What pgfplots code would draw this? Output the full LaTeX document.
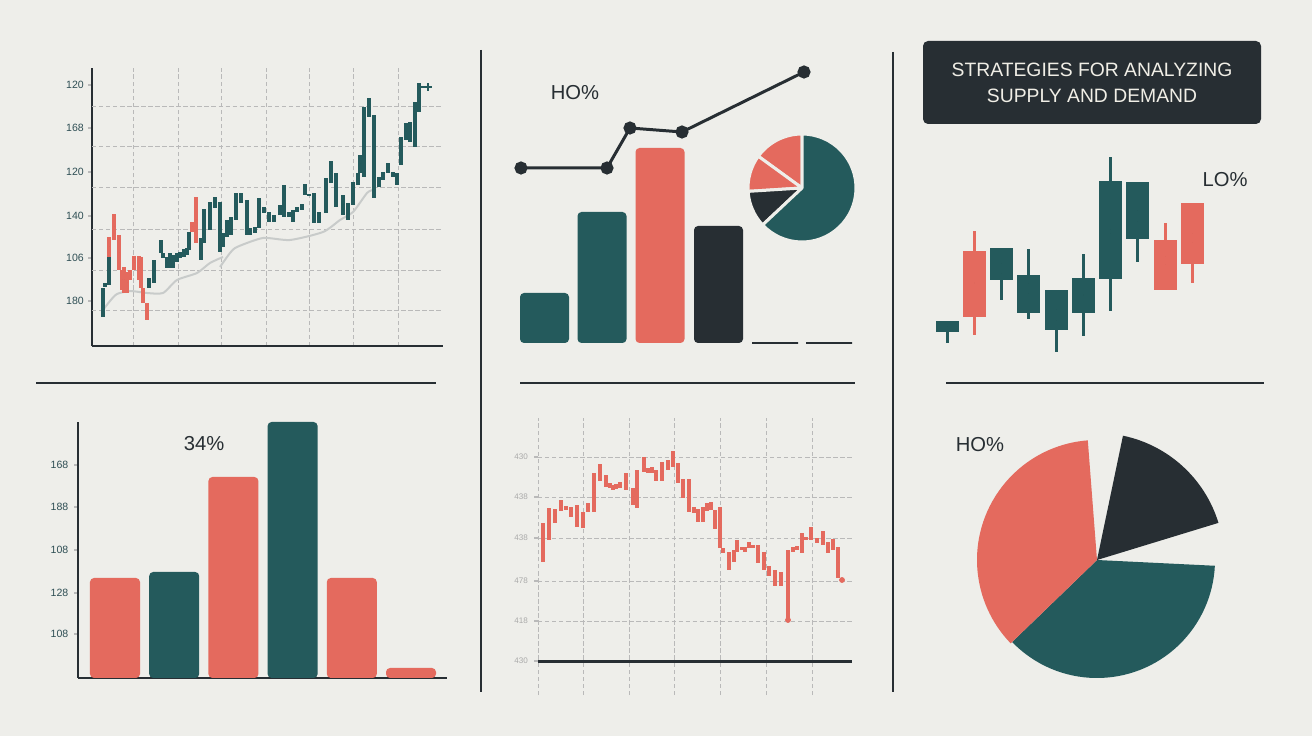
\documentclass[border=0pt]{standalone}
\usepackage{fontspec}
\setmainfont{Liberation Sans}
\usepackage{pgfplots}
\usepackage{pgfplotstable}
\pgfplotsset{compat=1.18}

\definecolor{bg}{RGB}{238,238,234}
\definecolor{cteal}{RGB}{36,90,92}
\definecolor{ccoral}{RGB}{228,106,94}
\definecolor{cdark}{RGB}{39,46,51}
\definecolor{cma}{RGB}{200,203,202}
\definecolor{ctick}{RGB}{46,78,84}
\definecolor{cgrid}{RGB}{185,185,185}
\definecolor{clight}{RGB}{170,170,170}
\definecolor{ctitle}{RGB}{240,238,230}

\pgfplotsset{
  candle/.style 2 args={only marks, mark size=0pt, mark options={draw=none, fill=none},
    error bars/.cd, y dir=both, y explicit, error mark=none,
    error bar style={line width=#1, draw=#2}},
  /pgfplots/table/lohi/.style={x=x, y expr={(\thisrow{lo}+\thisrow{hi})/2},
    y error expr={(\thisrow{hi}-\thisrow{lo})/2}},
  /pgfplots/table/body/.style={x=i, y expr={(\thisrow{o}+\thisrow{c})/2},
    y error expr={abs(\thisrow{c}-\thisrow{o})/2}},
  /pgfplots/table/wick/.style={x=i, y expr={(\thisrow{h}+\thisrow{l})/2},
    y error expr={(\thisrow{h}-\thisrow{l})/2}},
  dgrid/.style={cgrid, dash pattern=on 2.5pt off 1.5pt, line width=0.5pt},
}

% top left: price bars (x, low, high)
\pgfplotstableread{
x lo hi
103 29 58
105 59 63
109 61 89
149 58 68
154 63 86
161 93 106
163 88 93
167 78 89
170 78 93
173 78 91
177 84 93
180 88 94
184 89 97
187 91 98
189 96 114
201 86 108
204 103 137
210 116 144
215 138 149
220 94 144
223 99 113
227 109 126
231 111 129
236 126 153
241 143 153
247 111 146
250 111 118
255 113 119
259 118 148
264 133 139
269 124 134
274 124 131
280 131 141
284 129 161
289 129 134
293 124 136
297 134 139
302 136 142
305 151 162
309 150 152
314 123 153
319 123 134
326 133 168
331 163 185
336 139 173
343 131 151
348 126 143
353 141 164
358 161 173
360 173 191
364 169 239
369 229 248
374 148 231
379 159 169
383 166 174
388 173 183
393 169 174
397 161 173
401 181 209
406 206 223
410 204 224
415 199 244
419 234 263
}\tlteal
\pgfplotstableread{
x lo hi
109 89 109
114 106 132
119 76 111
122 56 76
124 53 79
127 53 74
130 66 76
134 76 90
139 66 90
141 58 89
143 43 58
147 26 43
192 114 124
196 103 149
}\tlcoral

% top right: candles
\pgfplotstableread{
i o h l c
1 28 39 17 39
3 80 112 60 112
4 47 111 41 85
5 30 70 8 70
6 47 106 24 82
7 81 203 49 179
8 121 178 98 178
}\trteal
\pgfplotstableread{
i o h l c
2 109 129 25 43
9 120 137 70 70
10 157 157 77 96
}\trcoral

% bottom middle: price bars (x, low, high)
\pgfplotstableread{
x lo hi
543 99 138
549 121 153
555 138 152
561 150 161
566 151 155
571 144 154
577 134 156
583 133 149
588 149 158
594 149 188
600 180 197
606 174 186
610 173 178
613 171 176
616 172 177
620 173 179
626 171 188
633 156 173
637 153 191
644 189 204
648 188 193
652 188 194
656 180 191
662 180 199
668 191 201
673 194 210
678 178 198
683 163 182
689 149 182
694 148 154
698 139 152
703 139 154
707 150 158
711 151 159
715 132 151
720 113 154
723 108 113
729 91 109
734 99 111
737 109 121
742 111 114
745 109 114
749 113 119
753 113 116
758 98 116
764 91 109
769 85 95
775 75 91
781 75 89
788 41 111
793 109 114
797 111 115
802 108 128
806 121 124
811 121 134
817 118 123
823 116 130
828 108 119
833 111 122
838 83 114
}\bmcoral

\begin{document}
\begin{tikzpicture}
\useasboundingbox (0,0) rectangle (26.24,14.72);
\fill[bg] (0,0) rectangle (26.24,14.72);

% separators
\draw[cdark, line width=0.045cm] (0.72,7.06) -- (8.72,7.06);
\draw[cdark, line width=0.045cm] (10.4,7.06) -- (17.1,7.06);
\draw[cdark, line width=0.045cm] (18.92,7.06) -- (25.28,7.06);
\draw[cdark, line width=0.045cm] (9.62,13.72) -- (9.62,0.88);
\draw[cdark, line width=0.045cm] (17.86,13.68) -- (17.86,0.88);

% top left
\begin{axis}[at={(1.84cm,7.80cm)}, anchor=south west, scale only axis,
  width=7.02cm, height=5.56cm, xmin=92, xmax=443, ymin=0, ymax=278,
  axis lines=left, axis line style={-, line width=0.05cm, cdark}, clip=false,
  xtick={133,178,221,266,309,353,398}, xticklabels={}, xmajorgrids,
  x tick style={draw=none},
  ytick={261,218,174,130,88,45}, yticklabels={120,168,120,140,106,180},
  y tick style={cgrid, line width=0.6pt}, tick align=outside, major tick length=0.08cm,
  yticklabel style={font=\fontsize{6}{7}\selectfont, text=ctick, xshift=0.04cm},
  extra y ticks={240,200,159,117,76,36}, extra y tick labels={},
  extra y tick style={grid=major, major tick length=0pt},
  grid style={dgrid}]
\addplot[cma, line width=0.04cm, smooth, tension=0.4] coordinates {
  (103,36) (110,45) (117,52) (130,55) (147,53) (163,53) (177,66) (197,73) (210,83) (223,89)};
\addplot[cma, line width=0.04cm, smooth, tension=0.4] coordinates {
  (220,79) (230,93) (237,99) (263,108) (290,106) (323,114) (340,126) (353,134) (367,153) (373,156)};
\addplot[candle={0.085cm}{cteal}] table[lohi] {\tlteal};
\addplot[candle={0.085cm}{ccoral}] table[lohi] {\tlcoral};
\addplot[cteal, line width=0.6pt, mark=+, mark size=2pt, mark indices={2}] coordinates {(421,259) (428,259)};
\end{axis}

% top middle
\begin{axis}[at={(10cm,7.86cm)}, anchor=south west, scale only axis,
  width=7.4cm, height=5.86cm, xmin=500, xmax=870, ymin=0, ymax=293,
  hide axis, clip=false]
\addplot[ybar, bar width=0.98cm, bar shift=0pt, fill=cteal, draw=none, rounded corners=0.08cm]
  coordinates {(544.5,50) (602,131)};
\addplot[ybar, bar width=0.98cm, bar shift=0pt, fill=ccoral, draw=none, rounded corners=0.08cm]
  coordinates {(660,195)};
\addplot[ybar, bar width=0.98cm, bar shift=0pt, fill=cdark, draw=none, rounded corners=0.08cm]
  coordinates {(718.5,117)};
\addplot[ybar, bar width=0.92cm, bar shift=0pt, fill=none, draw=cdark, line width=0.04cm]
  coordinates {(775,0) (829,0)};
\addplot[cdark, line width=0.06cm, mark=*, mark size=0.1cm, mark options={fill=cdark}]
  coordinates {(521,175) (607,175) (630,215) (682,211) (804,271)};
\coordinate (pc1) at (axis cs:802,155);
\end{axis}

% top right
\begin{axis}[at={(18.3944cm,7.52cm)}, anchor=south west, scale only axis,
  width=6.0016cm, height=4.4cm, xmin=0, xmax=11, ymin=0, ymax=220,
  hide axis, clip=false]
\addplot[candle={0.06cm}{cteal}] table[wick] {\trteal};
\addplot[candle={0.06cm}{ccoral}] table[wick] {\trcoral};
\addplot[candle={0.46cm}{cteal}] table[body] {\trteal};
\addplot[candle={0.46cm}{ccoral}] table[body] {\trcoral};
\end{axis}

% bottom left
\begin{axis}[at={(1.56cm,1.16cm)}, anchor=south west, scale only axis,
  width=7.38cm, height=5.12cm, xmin=0.375, xmax=6.608, ymin=0, ymax=256,
  axis lines=left, axis line style={-, line width=0.05cm, cdark}, clip=false,
  xtick=\empty, ytick={213,171,128,85,44}, yticklabels={168,188,108,128,108},
  y tick style={cgrid, line width=0.6pt}, tick align=outside, major tick length=0.07cm,
  yticklabel style={font=\fontsize{6}{7}\selectfont, text=ctick}]
\addplot[ybar, bar width=1cm, bar shift=0pt, fill=ccoral, draw=none, rounded corners=0.08cm]
  coordinates {(1,100) (3,201) (5,100) (6,10)};
\addplot[ybar, bar width=1cm, bar shift=0pt, fill=cteal, draw=none, rounded corners=0.08cm]
  coordinates {(2,106) (4,256)};
\end{axis}

% bottom middle
\begin{axis}[at={(10.76cm,0.82cm)}, anchor=south west, scale only axis,
  width=6.28cm, height=5.54cm, xmin=538, xmax=852, ymin=-34, ymax=243,
  axis line style={draw=none}, tick pos=left, clip=false,
  xtick={538,583,629,674,720,766,812}, xticklabels={}, xmajorgrids,
  x tick style={draw=none},
  ytick={204,164,123,80,40}, yticklabels={430,438,438,478,418}, ymajorgrids,
  y tick style={cgrid, line width=0.6pt}, tick align=outside, major tick length=0.08cm,
  yticklabel style={font=\fontsize{4.6}{5}\selectfont, text=clight},
  extra y ticks={0}, extra y tick labels={430},
  extra y tick style={grid style={solid, cdark, line width=0.06cm}},
  grid style={dgrid}]
\addplot[candle={0.08cm}{ccoral}] table[lohi] {\bmcoral};
\addplot[only marks, mark=*, mark size=0.05cm, ccoral] coordinates {(788,41) (842,81)};
\end{axis}

% bottom right
\begin{axis}[at={(18cm,0cm)}, anchor=south west, scale only axis,
  width=8cm, height=6cm, xmin=900, xmax=1300, ymin=0, ymax=300, hide axis]
\coordinate (pc2) at (axis cs:1097,176);
\end{axis}

% pies (shares in percent)
\gdef\pa{90}
\foreach \v/\c in {15/ccoral, 11/ccoral, 11/cdark, 63/cteal} {
  \pgfmathsetmacro{\pb}{\pa+3.6*\v}
  \filldraw[fill=\c, draw=bg, line width=0.06cm, line join=round]
    (pc1) -- ++(\pa:1.08cm) arc[start angle=\pa, end angle=\pb, radius=1.08cm] -- cycle;
  \xdef\pa{\pb}
}
\gdef\pa{-136}
\foreach \v/\c/\r in {37/cteal/2.36cm, 5.5/none/1cm, 17/cdark/2.54cm, 4.5/none/1cm, 36/ccoral/2.4cm} {
  \pgfmathsetmacro{\pb}{\pa+3.6*\v}
  \fill[fill=\c] (pc2) -- ++(\pa:\r) arc[start angle=\pa, end angle=\pb, radius=\r] -- cycle;
  \xdef\pa{\pb}
}

% texts
\node[fill=cdark, rounded corners=0.1cm, minimum width=6.76cm, minimum height=1.66cm,
  text=ctitle, align=center, font=\fontsize{11}{14.8}\selectfont] at (21.84,13.07)
  {STRATEGIES FOR ANALYZING\\SUPPLY AND DEMAND};
\node[text=cdark, font=\fontsize{11.5}{13}\selectfont] at (11.5,12.86) {HO\%};
\node[text=cdark, font=\fontsize{11.5}{13}\selectfont] at (24.5,11.12) {LO\%};
\node[text=cdark, font=\fontsize{11.5}{13}\selectfont] at (4.08,5.84) {34\%};
\node[text=cdark, font=\fontsize{11.5}{13}\selectfont] at (19.6,5.83) {HO\%};
\end{tikzpicture}
\end{document}
